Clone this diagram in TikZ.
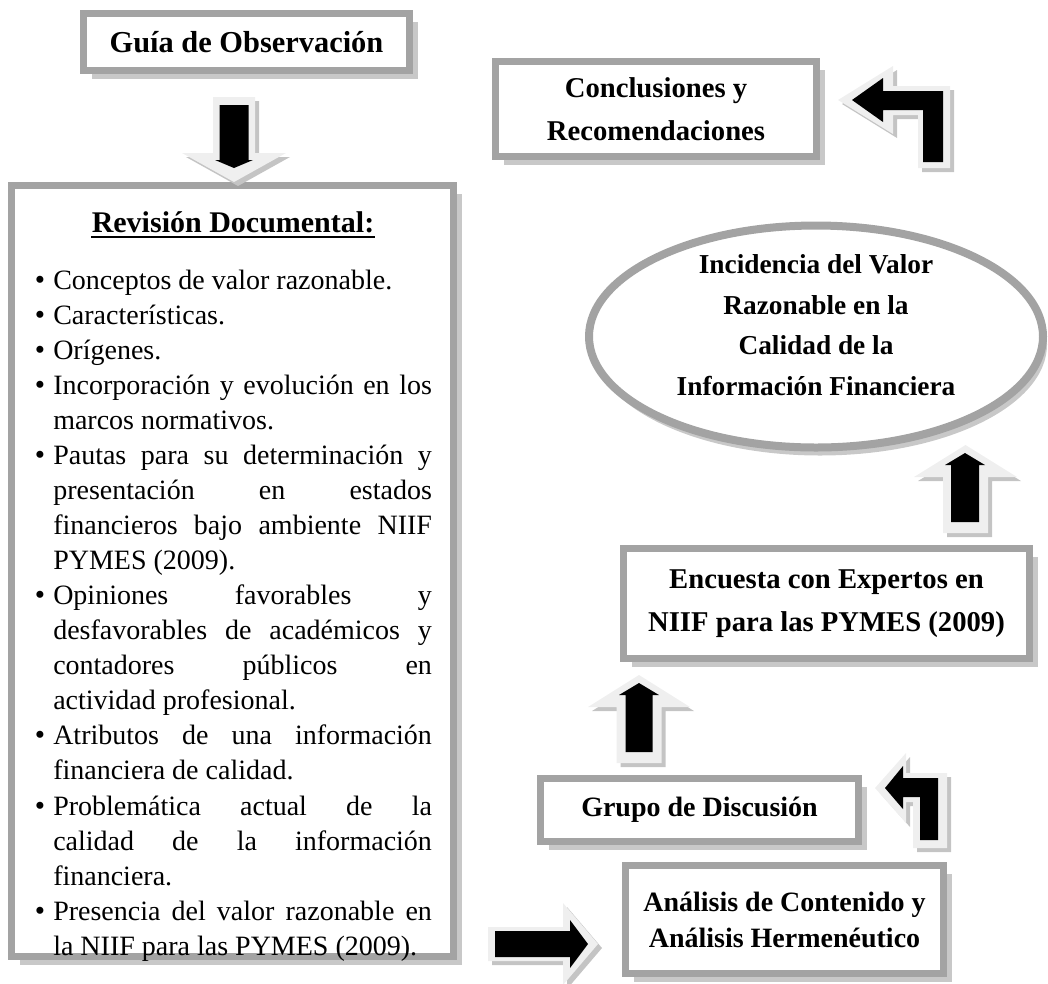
\documentclass[tikz,border=0pt]{standalone}
\usepackage{fontspec}
\setmainfont{Liberation Serif}
\usetikzlibrary{shapes.geometric,shadows}
\definecolor{framegray}{HTML}{A3A3A3}
\definecolor{shadowgray}{HTML}{C8C8C8}
\definecolor{arrowlight}{HTML}{EFEFEF}
\definecolor{arrowshadow}{HTML}{C4C4C4}
\newcommand\fullline[1]{\makebox[284pt][s]{#1}}
\newcommand\bul{\leavevmode\llap{{\fontsize{22}{22}\selectfont\textbullet}\hspace{6pt}}}
\newcommand\blockarrow[2]{%
  \fill[arrowshadow, shift={(4,4)}] #1 -- cycle;
  \fill[arrowlight] #1 -- cycle;
  \fill[black] #2 -- cycle;}
\begin{document}
\begin{tikzpicture}[x=0.75pt,y=-0.75pt,
  framebox/.style={rectangle, draw=framegray, line width=5.25pt, fill=white, inner sep=0pt,
     drop shadow={shadow xshift=6pt, shadow yshift=-6pt, fill=shadowgray, opacity=1}},
  boxtext/.style={font=\fontsize{21.5}{32}\selectfont\bfseries, align=center},
  smalltext/.style={font=\fontsize{21}{27}\selectfont\bfseries, align=center},
  elltext/.style={font=\fontsize{20.5}{30.5}\selectfont\bfseries, align=center, inner sep=0pt}]
\useasboundingbox (0,0) rectangle (1048,983);

% boxes
\node[framebox, boxtext, font=\fontsize{22.8}{32}\selectfont\bfseries, minimum width=244.5pt, minimum height=42.75pt] (guia) at (246.5,42) {Guía de Observación};
\node[framebox, boxtext, minimum width=240.75pt, minimum height=71.25pt] (concl) at (656,109) {Conclusiones y\\Recomendaciones};
\node[framebox, minimum width=331.5pt, minimum height=578.25pt] (rev) at (232.5,571) {};
\node[framebox, boxtext, minimum width=304.5pt, minimum height=82.5pt] (encuesta) at (826.5,603.5) {Encuesta con Expertos en\\NIIF para las PYMES (2009)};
\node[framebox, smalltext, minimum width=238.5pt, minimum height=47.25pt] (grupo) at (699.5,810) {Grupo de Discusión};
\node[framebox, smalltext, minimum width=238.5pt, minimum height=81pt] (analisis) at (784.5,919.5) {Análisis de Contenido y\\Análisis Hermenéutico};

% ellipse
\node[ellipse, draw=framegray, line width=6pt, fill=white, inner sep=0pt,
      minimum width=340.5pt, minimum height=166.5pt,
      drop shadow={shadow xshift=3pt, shadow yshift=-6pt, fill=shadowgray, opacity=1}] (ell) at (816,336.5) {};
\node[elltext] (elltxt) at (816,325) {Incidencia del Valor\\Razonable en la\\Calidad de la\\Información Financiera};

% Revision content
\node[inner sep=0pt, anchor=base, font=\fontsize{22.5}{27}\selectfont\bfseries] (revtitle) at (233,232) {Revisión Documental:};
\draw[line width=1.4pt] ([yshift=-3.6pt]revtitle.base west) -- ([yshift=-3.6pt]revtitle.base east);
\node[inner sep=0pt, anchor=base west] (revlist) at (53,289) {%
\begin{minipage}[t]{284pt}\fontsize{21}{26.3}\selectfont\setlength\parindent{0pt}%
\bul Conceptos de valor razonable.\\
\bul Características.\\
\bul Orígenes.\\
\bul\fullline{Incorporación y evolución en los}\\
marcos normativos.\\
\bul\fullline{Pautas para su determinación y}\\
\fullline{presentación en estados}\\
\fullline{financieros bajo ambiente NIIF}\\
PYMES (2009).\\
\bul\fullline{Opiniones favorables y}\\
\fullline{desfavorables de académicos y}\\
\fullline{contadores públicos en}\\
actividad profesional.\\
\bul\fullline{Atributos de una información}\\
financiera de calidad.\\
\bul\fullline{Problemática actual de la}\\
\fullline{calidad de la información}\\
financiera.\\
\bul\fullline{Presencia del valor razonable en}\\
la NIIF para las PYMES (2009).
\end{minipage}};

% arrows
% Guia -> Revision (down)
\blockarrow{(213,97) -- (255,97) -- (255,153) -- (286,153) -- (234,182) -- (182,153) -- (213,153)}
           {(219.5,105) -- (248.5,105) -- (248.5,160) -- (253,160) -- (234,168) -- (215,160) -- (219.5,160)}
% Revision -> Analisis (right)
\blockarrow{(488,927) -- (563,927) -- (563,903) -- (598,944) -- (563,985) -- (563,961) -- (488,961)}
           {(495,931) -- (570,931) -- (570,920) -- (588,944) -- (570,968) -- (570,957) -- (495,957)}
% Analisis -> Grupo (bent)
\blockarrow{(875,788) -- (906,753) -- (906,773) -- (947,773) -- (947,848) -- (913,848) -- (913,802) -- (906,802) -- (906,823)}
           {(885,788) -- (903,766) -- (903,778) -- (938,778) -- (938,840) -- (920,840) -- (920,797) -- (903,797) -- (903,809)}
% Grupo -> Encuesta (up)
\blockarrow{(616.5,763) -- (661.5,763) -- (661.5,707) -- (690,707) -- (639,675) -- (588,707) -- (616.5,707)}
           {(625.5,752) -- (652.5,752) -- (652.5,695) -- (659,695) -- (639,683) -- (619,695) -- (625.5,695)}
% Encuesta -> Ellipse (up)
\blockarrow{(943,533) -- (988,533) -- (988,477) -- (1017,477) -- (965.5,445) -- (914,477) -- (943,477)}
           {(951,522) -- (979,522) -- (979,465) -- (985,465) -- (965,453) -- (945,465) -- (951,465)}
% Ellipse -> Conclusiones (bent)
\blockarrow{(838,100) -- (893,66) -- (893,86) -- (950,86) -- (950,168) -- (918,168) -- (918,115) -- (893,115) -- (893,134)}
           {(852,100) -- (883,78) -- (883,91) -- (943,91) -- (943,162) -- (923,162) -- (923,110) -- (883,110) -- (883,122)}
\end{tikzpicture}
\end{document}
